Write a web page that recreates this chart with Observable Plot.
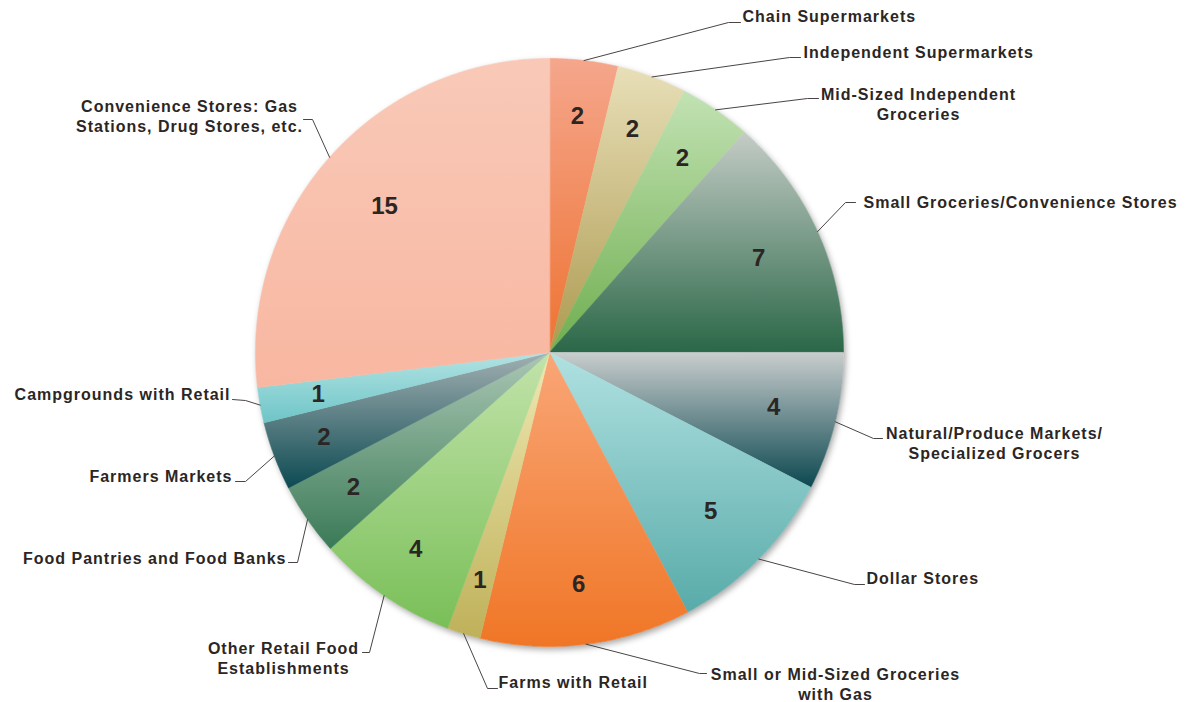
<!DOCTYPE html>
<html><head><meta charset="utf-8">
<script src="https://cdn.jsdelivr.net/npm/d3@7"></script>
<script src="https://cdn.jsdelivr.net/npm/@observablehq/plot@0.6"></script>
<style>
body{margin:0;background:#fff;}
.cat text{letter-spacing:1px;}
</style></head><body><div id="chart"></div>
<script>
// ---- data ----
const categories = [
  "Chain Supermarkets",
  "Independent Supermarkets",
  "Mid-Sized Independent\nGroceries",
  "Small Groceries/Convenience Stores",
  "Natural/Produce Markets/\nSpecialized Grocers",
  "Dollar Stores",
  "Small or Mid-Sized Groceries\nwith Gas",
  "Farms with Retail",
  "Other Retail Food\nEstablishments",
  "Food Pantries and Food Banks",
  "Farmers Markets",
  "Campgrounds with Retail",
  "Convenience Stores: Gas\nStations, Drug Stores, etc."
];
const counts = [2, 2, 2, 7, 4, 5, 6, 1, 4, 2, 2, 1, 15];          // printed slice labels
const shares = [3.75, 3.83, 3.94, 13.47, 7.58, 9.64, 11.58, 1.83, 7.75, 4.00, 3.78, 1.94, 26.89]; // slice sizes (%) as drawn
const colorTop = ["#f5a68c","#e8dfb8","#c2e2b3","#c4ccc6","#c9cdcd","#b0e1e1","#f9a677","#efe8b2","#c2e3aa","#abc7b4","#a2b0b2","#b3e3e3","#f9c9b8"];
const colorBottom = ["#ee7332","#ad9a50","#6fae4f","#2a6747","#0c4850","#58aba9","#f07626","#bfb15a","#79bf58","#3a7a57","#0d4a52","#6ec5c7","#f8b7a1"];

// ---- layout (pixels) ----
const W = 1187, H = 702, cx = 549, cy = 352, R = 294;
const layout = [
  {tx: 742, ty: 15,  anchor: "start",  elbow: [728, 22],  end: [740, 22],  numR: 0.81},
  {tx: 803, ty: 51,  anchor: "start",  elbow: [789, 57],  end: [800, 57],  numR: 0.81},
  {tx: 918, ty: 103, anchor: "middle", elbow: [807, 98],  end: [818, 98],  numR: 0.80},
  {tx: 863, ty: 201, anchor: "start",  elbow: [845, 202], end: [855, 202], numR: 0.78},
  {tx: 994, ty: 442, anchor: "middle", elbow: [873, 438], end: [882, 438], numR: 0.785},
  {tx: 866, ty: 577, anchor: "start",  elbow: [854, 584], end: [864, 584], numR: 0.77},
  {tx: 835, ty: 683, anchor: "middle", elbow: [699, 673], end: [706, 673], numR: 0.795},
  {tx: 498, ty: 681, anchor: "start",  elbow: [487, 688], end: [497, 688], numR: 0.81},
  {tx: 283, ty: 657, anchor: "middle", elbow: [369, 652], end: [362, 652], numR: 0.81},
  {tx: 286, ty: 557, anchor: "end",    elbow: [297, 562], end: [288, 562], numR: 0.81},
  {tx: 232, ty: 475, anchor: "end",    elbow: [245, 481], end: [235, 481], numR: 0.82},
  {tx: 230, ty: 393, anchor: "end",    elbow: [245, 400], end: [232, 399], numR: 0.80},
  {tx: 189, ty: 115, anchor: "middle", elbow: [312, 119], end: [303, 119], numR: 0.75}
];

// ---- geometry from data ----
const arcs = d3.pie().sort(null).value(d => d)(shares);
const px = a => cx + R * Math.sin(a);
const py = a => cy - R * Math.cos(a);

const slices = arcs.map((a, i) => {
  const pts = [{x: cx, y: cy}];
  const n = Math.max(2, Math.ceil((a.endAngle - a.startAngle) / (Math.PI / 360)));
  for (let k = 0; k <= n; k++) {
    const t = a.startAngle + (a.endAngle - a.startAngle) * k / n;
    pts.push({x: px(t), y: py(t)});
  }
  return pts;
});

const circle = d3.range(0, 721).map(k => ({x: px(k * Math.PI / 360), y: py(k * Math.PI / 360)}));

const numLabels = arcs.map((a, i) => {
  const m = (a.startAngle + a.endAngle) / 2;
  const rr = R * layout[i].numR;
  return {x: cx + rr * Math.sin(m), y: cy - rr * Math.cos(m), text: String(counts[i])};
});

const leaders = [];
arcs.forEach((a, i) => {
  const m = (a.startAngle + a.endAngle) / 2;
  leaders.push({i, x: px(m), y: py(m)});
  leaders.push({i, x: layout[i].elbow[0], y: layout[i].elbow[1]});
  leaders.push({i, x: layout[i].end[0], y: layout[i].end[1]});
});

const catLabels = categories.map((c, i) => ({text: c, x: layout[i].tx, y: layout[i].ty, anchor: layout[i].anchor}));

const textOpts = {x: "x", y: "y", text: "text", fontSize: 16, fontWeight: "bold", fill: "#2b2624", lineHeight: 1.25, className: "cat"};

const svg = Plot.plot({
  width: W, height: H,
  margin: 0,
  x: {domain: [0, W], range: [0, W], axis: null},
  y: {domain: [0, H], range: [0, H], axis: null},
  style: {fontFamily: "'Liberation Sans', Arial, sans-serif", background: "#fff"},
  marks: [
    Plot.line(circle, {x: "x", y: "y", fill: "#ffffff", stroke: "none", imageFilter: "drop-shadow(2px 3px 3px rgba(0,0,0,0.35))"}),
    ...slices.map((pts, i) => Plot.line(pts, {x: "x", y: "y", fill: `url(#g${i})`, stroke: `url(#g${i})`, strokeWidth: 0.6, curve: "linear-closed"})),
    Plot.text(numLabels, {x: "x", y: "y", text: "text", fontSize: 24, fontWeight: "bold", fill: "#2b2624"}),
    Plot.line(leaders, {x: "x", y: "y", z: "i", stroke: "#4a4444", strokeWidth: 1}),
    Plot.text(catLabels.filter(d => d.anchor === "start"), {...textOpts, textAnchor: "start"}),
    Plot.text(catLabels.filter(d => d.anchor === "middle"), {...textOpts, textAnchor: "middle"}),
    Plot.text(catLabels.filter(d => d.anchor === "end"), {...textOpts, textAnchor: "end"})
  ]
});

const defs = d3.select(svg).insert("defs", ":first-child");
colorTop.forEach((c, i) => {
  const g = defs.append("linearGradient").attr("id", `g${i}`)
    .attr("x1", 0).attr("y1", 0).attr("x2", 0).attr("y2", 1);
  g.append("stop").attr("offset", "0%").attr("stop-color", c);
  g.append("stop").attr("offset", "100%").attr("stop-color", colorBottom[i]);
});

document.getElementById("chart").appendChild(svg);
</script>
</body></html>
